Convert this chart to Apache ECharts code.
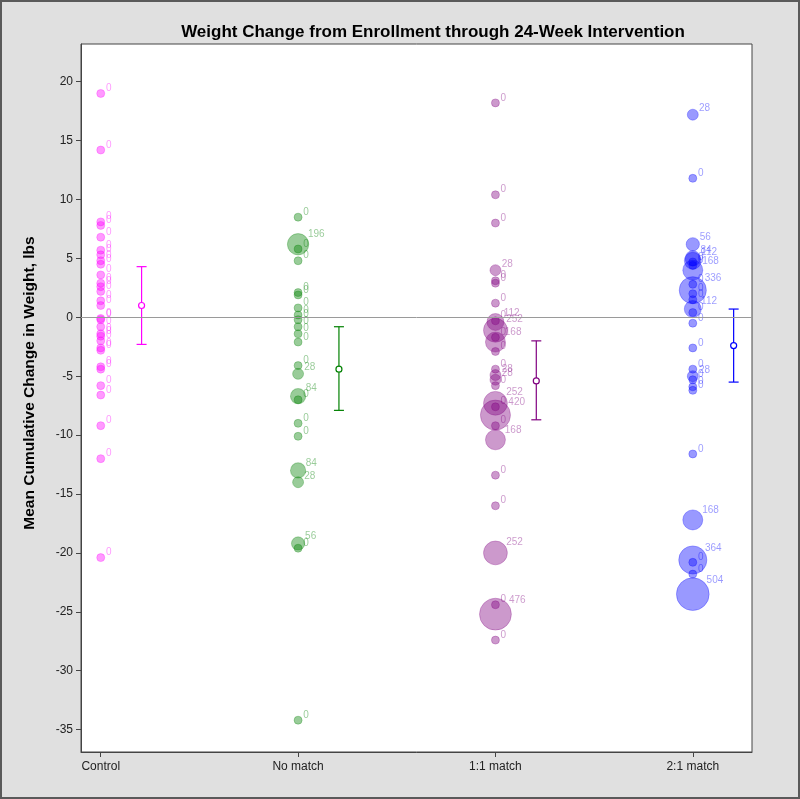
<!DOCTYPE html>
<html>
<head>
<meta charset="utf-8">
<script src="https://cdn.jsdelivr.net/npm/echarts@6/dist/echarts.min.js"></script>
<style>
html,body{margin:0;padding:0;background:#e0e0e0;}
#chart{width:800px;height:799px;box-sizing:border-box;border:2px solid #5a5a5a;background:#e0e0e0;}
</style>
</head>
<body>
<div id="chart"></div>
<script>
// ---- data ----
var categories = ['Control', 'No match', '1:1 match', '2:1 match'];

// mean cumulative change (lbs) for each participant, and bubble-size variable (label)
var controlY = [19.0, 14.2, 8.1, 7.8, 6.8, 5.7, 5.3, 4.8, 4.5, 3.6, 2.9, 2.6, 2.2, 1.4, 1.0, -0.1, -0.2, -0.8, -1.4, -1.6, -2.0, -2.6, -2.8, -4.2, -4.4, -5.8, -6.6, -9.2, -12.0, -20.4];
var controlS = [0, 0, 0, 0, 0, 0, 0, 0, 0, 0, 0, 0, 0, 0, 0, 0, 0, 0, 0, 0, 0, 0, 0, 0, 0, 0, 0, 0, 0, 0];

var noMatchY = [8.5, 6.2, 5.8, 4.8, 2.1, 1.9, 0.8, 0.2, -0.2, -0.8, -1.4, -2.1, -4.1, -4.8, -6.7, -7.0, -9.0, -10.1, -13.0, -14.0, -19.2, -19.6, -34.2];
var noMatchS = [0, 196, 0, 0, 0, 0, 0, 0, 0, 0, 0, 0, 0, 28, 84, 0, 0, 0, 84, 28, 56, 0, 0];

var oneToOneY = [18.2, 10.4, 8.0, 4.0, 3.1, 2.9, 1.2, -0.4, -0.3, -1.1, -1.7, -2.1, -2.9, -4.4, -4.9, -5.3, -5.8, -7.3, -7.6, -8.3, -9.2, -10.4, -13.4, -16.0, -20.0, -24.4, -25.2, -27.4];
var oneToOneS = [0, 0, 0, 28, 0, 0, 0, 112, 0, 252, 0, 168, 0, 0, 28, 28, 0, 252, 0, 420, 0, 168, 0, 0, 252, 0, 476, 0];

var twoToOneY = [17.2, 11.8, 6.2, 5.0, 4.8, 4.7, 4.4, 4.0, 2.8, 2.3, 2.0, 1.5, 0.7, 0.4, -0.5, -2.6, -4.4, -5.0, -5.3, -5.9, -6.2, -11.6, -17.2, -20.6, -20.8, -21.8, -23.5];
var twoToOneS = [28, 0, 56, 84, 112, 0, 0, 168, 0, 336, 0, 0, 112, 0, 0, 0, 0, 28, 0, 0, 0, 0, 168, 364, 0, 0, 504];

// group means with error bars
var groupMean  = [1.0, -4.4, -5.4, -2.4];
var groupLower = [-2.3, -7.9, -8.7, -5.5];
var groupUpper = [4.3, -0.8, -2.0, 0.7];

var yTicks = [-35, -30, -25, -20, -15, -10, -5, 0, 5, 10, 15, 20];

// ---- styles ----
var colors = ['rgb(255,0,255)', 'rgb(0,128,0)', 'rgb(128,0,128)', 'rgb(0,0,255)'];
function rgba(c, a){ return c.replace('rgb(', 'rgba(').replace(')', ',' + a + ')'); }
var font = '"Liberation Sans", Arial, sans-serif';

var groupsY = [controlY, noMatchY, oneToOneY, twoToOneY];
var groupsS = [controlS, noMatchS, oneToOneS, twoToOneS];

var series = [];
groupsY.forEach(function (ys, gi) {
  var data = ys.map(function (y, i) { return [gi + 1, y, groupsS[gi][i]]; });
  series.push({
    type: 'scatter',
    data: data,
    symbol: 'circle',
    symbolSize: function (v) { return Math.sqrt(64 + 2.0 * v[2]); },
    itemStyle: { color: rgba(colors[gi], 0.5), borderColor: rgba(colors[gi], 0.35), borderWidth: 1 },
    label: {
      show: true,
      formatter: function (p) { return String(p.value[2]); },
      position: ['85%', '15%'],
      offset: [2, 3],
      align: 'left',
      verticalAlign: 'bottom',
      color: rgba(colors[gi], 0.5),
      fontSize: 10,
      fontFamily: font
    },
    emphasis: { disabled: true },
    silent: true,
    z: 3,
    markLine: gi === 0 ? {
      silent: true,
      symbol: ['none', 'none'],
      label: { show: false },
      lineStyle: { color: '#9a9a9a', width: 1, type: 'solid' },
      data: [{ yAxis: 0 }]
    } : undefined
  });
});

var ebData = groupMean.map(function (m, i) { return [i + 1 + 0.207, m, groupLower[i], groupUpper[i], i]; });
series.push({
  type: 'custom',
  data: ebData,
  z: 4,
  silent: true,
  encode: { x: 0, y: [1, 2, 3] },
  renderItem: function (params, api) {
    var x = api.value(0);
    var pm = api.coord([x, api.value(1)]);
    var pl = api.coord([x, api.value(2)]);
    var pu = api.coord([x, api.value(3)]);
    var c = colors[api.value(4)];
    var cw = 5;
    var st = { stroke: c, lineWidth: 1.2, fill: null };
    return {
      type: 'group',
      children: [
        { type: 'line', shape: { x1: pm[0], y1: pu[1], x2: pm[0], y2: pm[1] - 3 }, style: st },
        { type: 'line', shape: { x1: pm[0], y1: pm[1] + 3, x2: pm[0], y2: pl[1] }, style: st },
        { type: 'line', shape: { x1: pm[0] - cw, y1: pu[1], x2: pm[0] + cw, y2: pu[1] }, style: st },
        { type: 'line', shape: { x1: pm[0] - cw, y1: pl[1], x2: pm[0] + cw, y2: pl[1] }, style: st },
        { type: 'circle', shape: { cx: pm[0], cy: pm[1], r: 3 }, style: { stroke: c, lineWidth: 1.2, fill: 'rgba(255,255,255,0)' } }
      ]
    };
  }
});

var chart = echarts.init(document.getElementById('chart'), null, { renderer: 'canvas' });
chart.setOption({
  animation: false,
  backgroundColor: '#e0e0e0',
  grid: { left: 79, right: 46, top: 42, bottom: 45, show: true, backgroundColor: '#ffffff', borderColor: '#444', borderWidth: 1 },
  graphic: [{
    type: 'text', x: 431, y: 30,
    style: { text: 'Weight Change from Enrollment through 24-Week Intervention', textAlign: 'center', textVerticalAlign: 'middle',
             font: 'bold 17px ' + font, fill: '#000' }
  }, {
    type: 'text', x: 28, y: 381, rotation: Math.PI / 2,
    style: { text: 'Mean Cumulative Change in Weight, lbs', textAlign: 'center', textVerticalAlign: 'middle',
             font: 'bold 15.5px ' + font, fill: '#000' }
  }],
  xAxis: {
    type: 'value', min: 0.9, max: 4.3,
    splitLine: { show: false },
    axisLine: { show: true, onZero: false, lineStyle: { color: '#444' } },
    axisTick: { show: true, customValues: [1, 2, 3, 4], length: 5, lineStyle: { color: '#444' } },
    axisLabel: { customValues: [1, 2, 3, 4], formatter: function (v) { return categories[Math.round(v) - 1]; },
                 color: '#222', fontSize: 12, fontFamily: font, margin: 9 }
  },
  yAxis: {
    type: 'value', min: -36.9, max: 23.2,
    splitLine: { show: false },
    axisLine: { show: true, onZero: false, lineStyle: { color: '#444' } },
    axisTick: { show: true, customValues: yTicks, length: 5, lineStyle: { color: '#444' } },
    axisLabel: { customValues: yTicks, color: '#222', fontSize: 12, fontFamily: font, margin: 8 }
  },
  series: series
});
</script>
</body>
</html>
